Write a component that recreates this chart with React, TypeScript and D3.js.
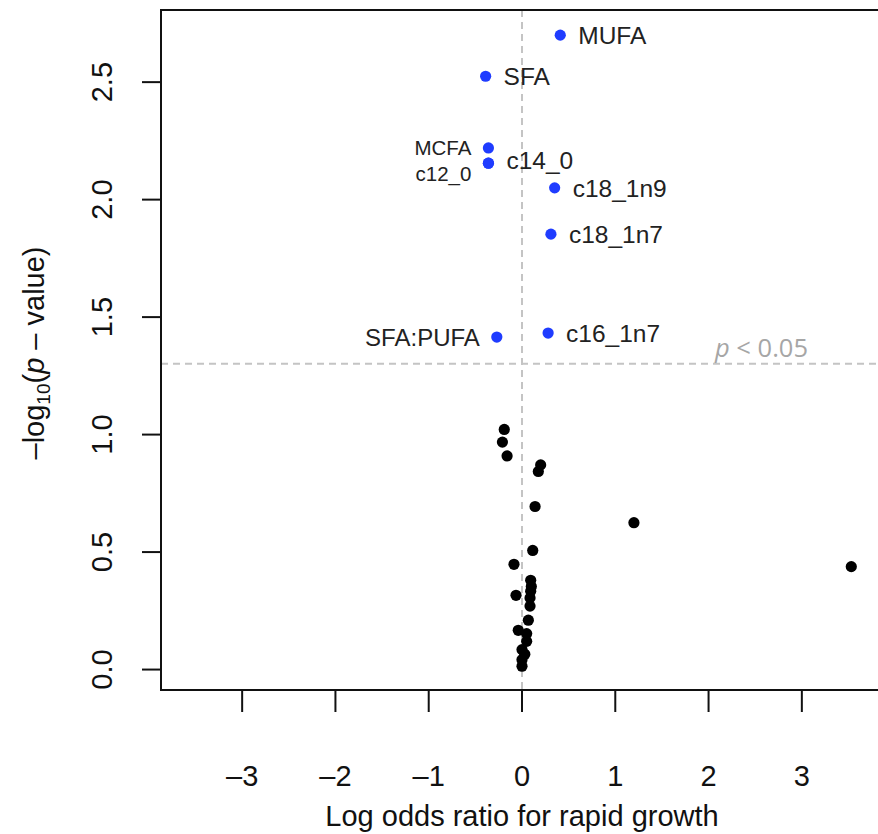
import * as d3 from 'd3';

// significant features (blue, labelled)
const sigNames = ['MUFA', 'SFA', 'MCFA', 'c12_0', 'c14_0', 'c18_1n9', 'c18_1n7', 'SFA:PUFA', 'c16_1n7'];
const sigLogOdds = [0.41, -0.39, -0.36, -0.36, -0.36, 0.35, 0.31, -0.27, 0.28];
const sigNegLogP = [2.70, 2.525, 2.22, 2.155, 2.155, 2.05, 1.853, 1.415, 1.432];

// non-significant features (black)
const nsLogOdds = [
  -0.19, -0.21, -0.16, 0.2, 0.175, 0.14, 0.115, -0.086, 0.093, 0.1, 0.093, -0.064, 0.086, 0.086,
  0.068, -0.04, 0.05, 0.05, 0.0, 0.03, 0.0, 0.0, 1.2, 3.53,
];
const nsNegLogP = [
  1.022, 0.968, 0.909, 0.871, 0.843, 0.694, 0.507, 0.448, 0.38, 0.354, 0.333, 0.316, 0.305, 0.27,
  0.21, 0.167, 0.153, 0.12, 0.085, 0.065, 0.042, 0.014, 0.625, 0.438,
];

const xTicks = [-3, -2, -1, 0, 1, 2, 3];
const yTicks = [0, 0.5, 1, 1.5, 2, 2.5];
const pThreshold = 0.05;

// label placement: side and extra vertical nudge, font size
const labelStyle: Record<string, { side: 'left' | 'right'; dy: number; size: number }> = {
  MUFA: { side: 'right', dy: 0, size: 24.5 },
  SFA: { side: 'right', dy: 0, size: 24.5 },
  MCFA: { side: 'left', dy: 0, size: 20.5 },
  c12_0: { side: 'left', dy: 10, size: 20.5 },
  c14_0: { side: 'right', dy: -3, size: 24.5 },
  c18_1n9: { side: 'right', dy: 0, size: 24.5 },
  c18_1n7: { side: 'right', dy: 0, size: 24.5 },
  'SFA:PUFA': { side: 'left', dy: 0, size: 24 },
  c16_1n7: { side: 'right', dy: 0, size: 24.5 },
};

const W = 878;
const H = 834;
const left = 161;
const top = 10;
const right = 883;
const bottom = 690;

export default function App() {
  const x = d3.scaleLinear().domain([-3.87, 3.87]).range([left, right]);
  const y = d3.scaleLinear().domain([-0.087, 2.807]).range([bottom, top]);
  const font = 'Liberation Sans, Arial, Helvetica, sans-serif';
  const thrY = y(-Math.log10(pThreshold));
  const axisSize = 29;

  return (
    <svg width={W} height={H} style={{ position: 'absolute', left: 0, top: 0, background: '#fff' }}>
      {/* reference lines */}
      <line x1={x(0)} x2={x(0)} y1={top} y2={bottom} stroke="#c4c4c4" strokeWidth={2} strokeDasharray="7,5" />
      <line x1={left} x2={right} y1={thrY} y2={thrY} stroke="#c4c4c4" strokeWidth={2} strokeDasharray="7,5" />
      <text x={715} y={thrY - 7} fontFamily="Open Sans, sans-serif" fontSize={25.5} fill="#a6a6a6">
        <tspan fontStyle="italic">p</tspan> {'< 0.05'}
      </text>

      {/* black points */}
      {nsLogOdds.map((v, i) => (
        <circle key={'n' + i} cx={x(v)} cy={y(nsNegLogP[i])} r={5.6} fill="#000" />
      ))}

      {/* blue points + labels */}
      {sigNames.map((name, i) => {
        const cx = x(sigLogOdds[i]);
        const cy = y(sigNegLogP[i]);
        const s = labelStyle[name];
        return (
          <g key={name}>
            <circle cx={cx} cy={cy} r={5.6} fill="#1f3cff" />
            <text
              x={s.side === 'right' ? cx + 18 : cx - 17}
              y={cy + s.dy}
              dy="0.36em"
              textAnchor={s.side === 'right' ? 'start' : 'end'}
              fontFamily={font}
              fontSize={s.size}
              fill="#222"
            >
              {name}
            </text>
          </g>
        );
      })}

      {/* box */}
      <rect x={left} y={top} width={right - left} height={bottom - top} fill="none" stroke="#111" strokeWidth={2} />

      {/* x axis */}
      {xTicks.map((t) => (
        <g key={'x' + t}>
          <line x1={x(t)} x2={x(t)} y1={bottom} y2={bottom + 22} stroke="#111" strokeWidth={2} />
          <text x={x(t)} y={786} textAnchor="middle" fontFamily={font} fontSize={axisSize} fill="#111">
            {t < 0 ? '\u2013' + Math.abs(t) : String(t)}
          </text>
        </g>
      ))}
      <text x={x(0)} y={826} textAnchor="middle" fontFamily={font} fontSize={axisSize} fill="#111">
        Log odds ratio for rapid growth
      </text>

      {/* y axis */}
      {yTicks.map((t) => (
        <g key={'y' + t}>
          <line x1={left - 19} x2={left} y1={y(t)} y2={y(t)} stroke="#111" strokeWidth={2} />
          <text
            transform={`translate(112,${y(t)}) rotate(-90)`}
            textAnchor="middle"
            fontFamily={font}
            fontSize={axisSize}
            fill="#111"
          >
            {t.toFixed(1)}
          </text>
        </g>
      ))}
      <text transform={`translate(44,353) rotate(-90)`} textAnchor="middle" fontFamily={font} fontSize={axisSize} fill="#111">
        {'\u2013log'}
        <tspan fontSize={19} dy={6}>10</tspan>
        <tspan dy={-6}>(</tspan>
        <tspan fontStyle="italic">p</tspan>
        {' \u2013 value)'}
      </text>
    </svg>
  );
}
